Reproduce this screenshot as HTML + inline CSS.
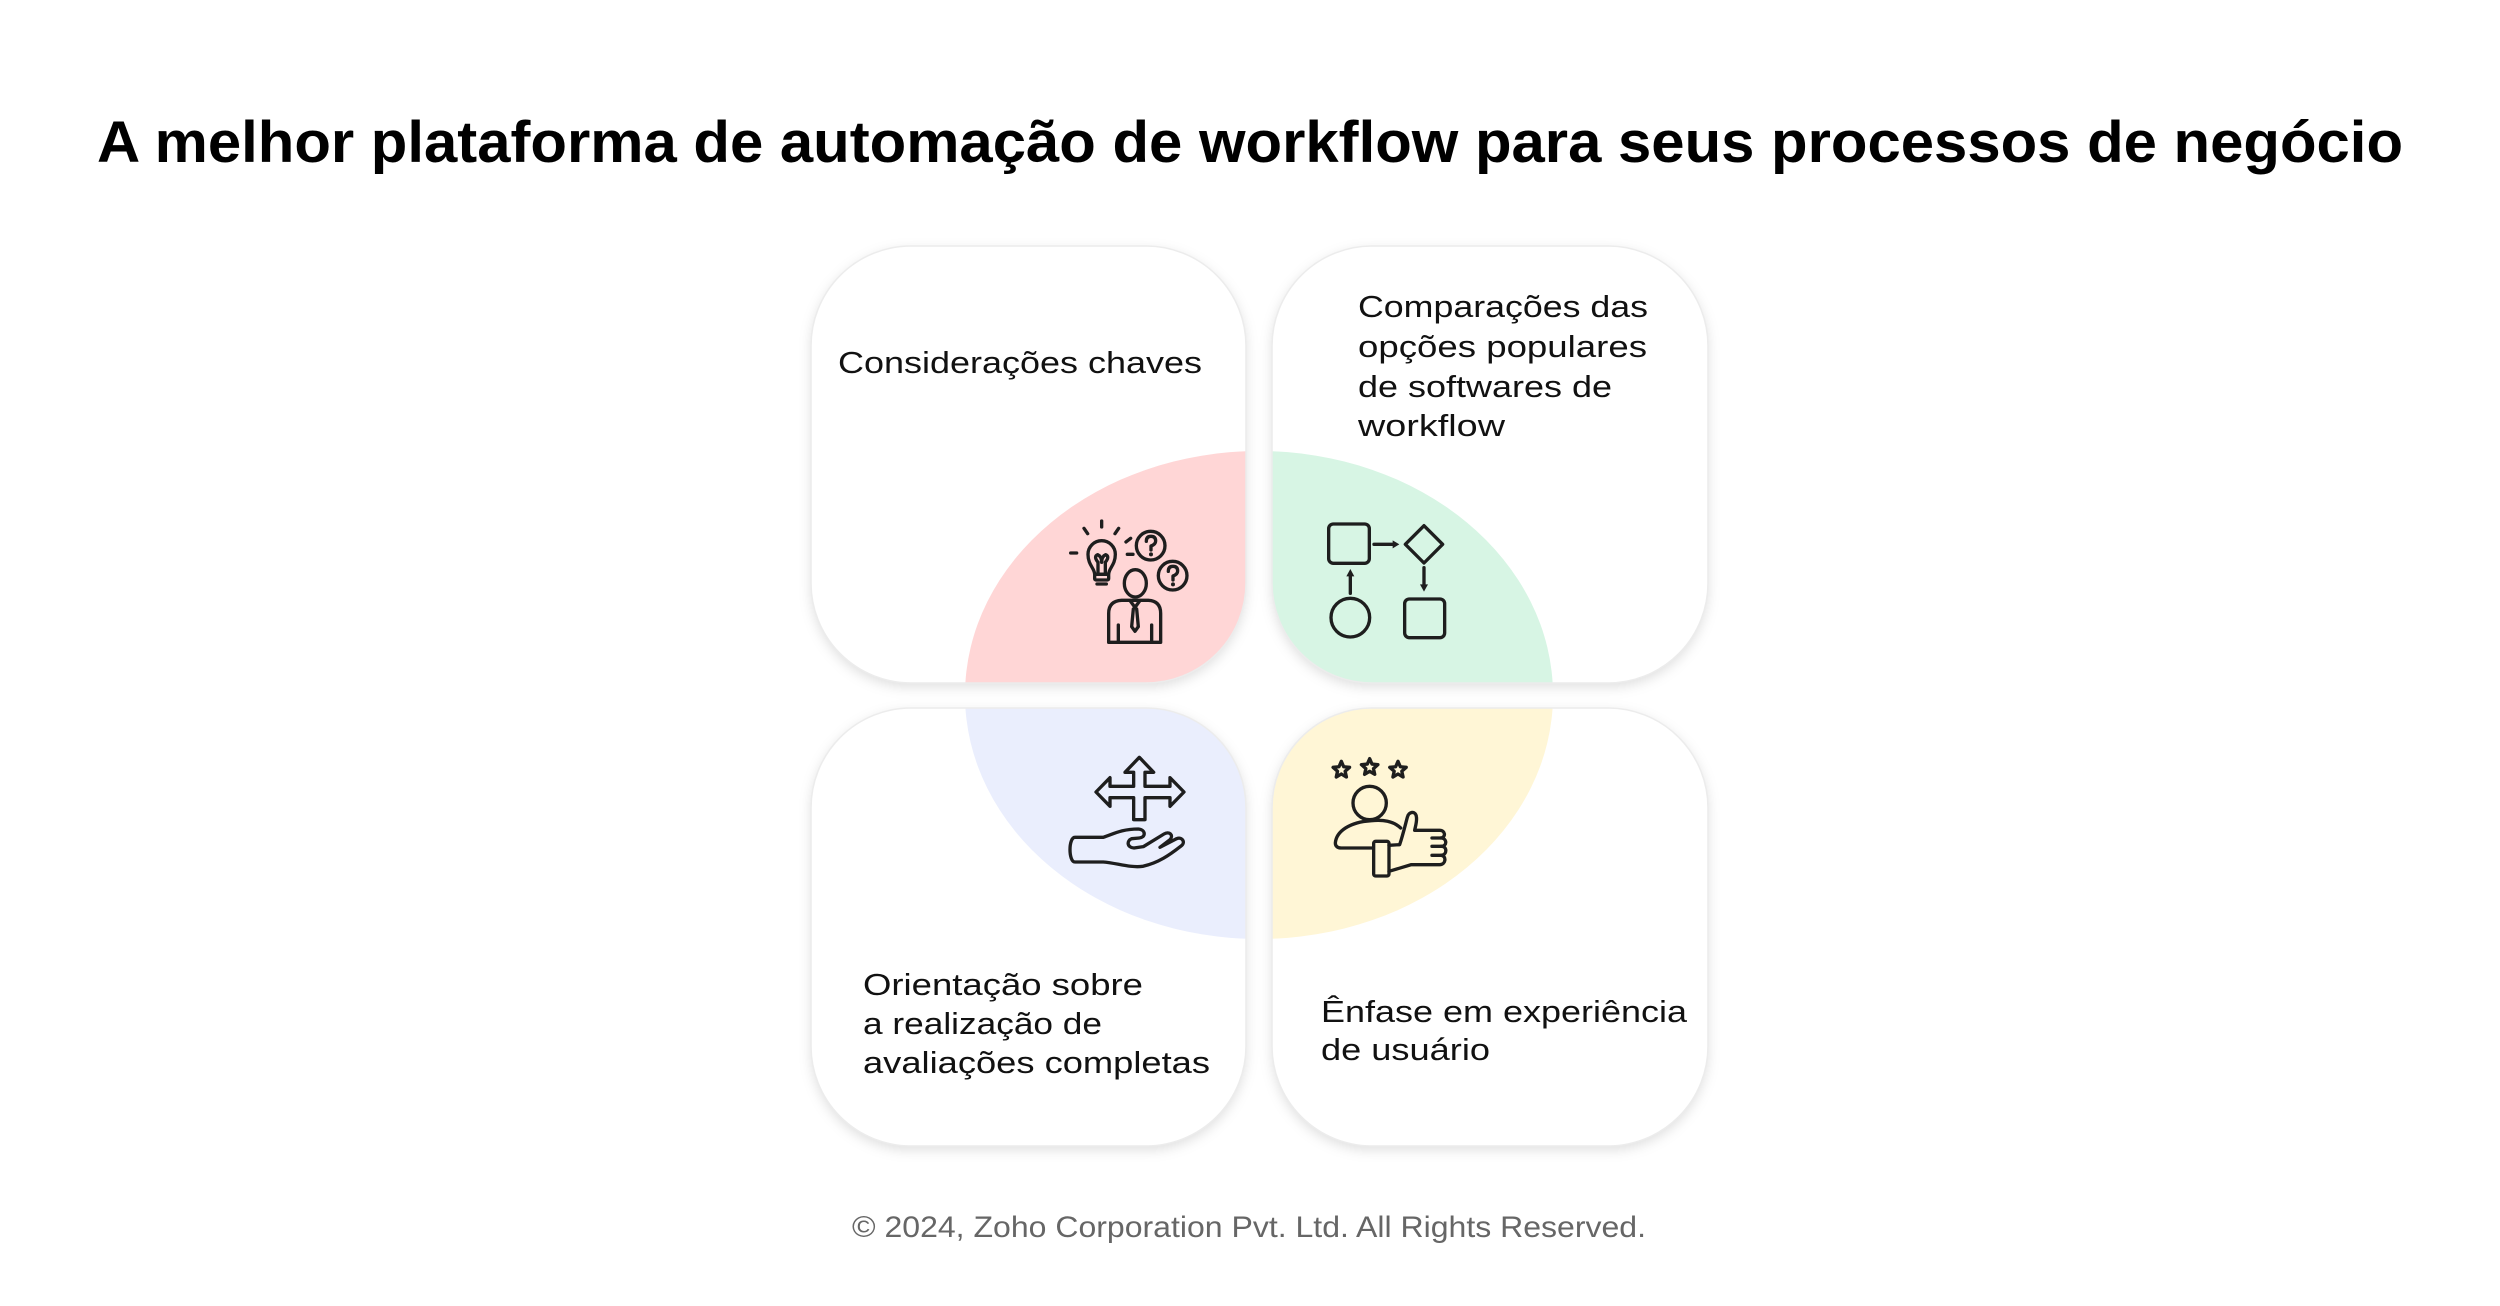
<!DOCTYPE html>
<html>
<head>
<meta charset="utf-8">
<style>
  html,body{margin:0;padding:0;background:#fff;}
  svg{display:block;}
  text{font-family:"Liberation Sans", sans-serif;}
</style>
</head>
<body>
<svg width="2500" height="1306" viewBox="0 0 2500 1306" xmlns="http://www.w3.org/2000/svg">
  <defs>
    <filter id="sh" x="-20%" y="-20%" width="140%" height="140%">
      <feDropShadow dx="0" dy="4" stdDeviation="6" flood-color="#000" flood-opacity="0.13"/>
    </filter>
    <clipPath id="c1"><rect x="811" y="246" width="435" height="437" rx="100" ry="100"/></clipPath>
    <clipPath id="c2"><rect x="1272" y="246" width="436" height="437" rx="100" ry="100"/></clipPath>
    <clipPath id="c3"><rect x="811" y="708" width="435" height="438" rx="100" ry="100"/></clipPath>
    <clipPath id="c4"><rect x="1272" y="708" width="436" height="438" rx="100" ry="100"/></clipPath>
  </defs>

  <rect width="2500" height="1306" fill="#ffffff"/>

  <!-- Title -->
  <text x="97" y="162" font-size="58" font-weight="bold" fill="#000" textLength="2306" lengthAdjust="spacingAndGlyphs">A melhor plataforma de automação de workflow para seus processos de negócio</text>

  <!-- Cards -->
  <g filter="url(#sh)">
    <rect x="811" y="246" width="435" height="437" rx="100" ry="100" fill="#fff"/>
    <rect x="1272" y="246" width="436" height="437" rx="100" ry="100" fill="#fff"/>
    <rect x="811" y="708" width="435" height="438" rx="100" ry="100" fill="#fff"/>
    <rect x="1272" y="708" width="436" height="438" rx="100" ry="100" fill="#fff"/>
  </g>

  <!-- Colored ellipse quadrants -->
  <ellipse cx="1259" cy="695" rx="294" ry="244" fill="#FFD6D6" clip-path="url(#c1)"/>
  <ellipse cx="1259" cy="695" rx="294" ry="244" fill="#D7F5E4" clip-path="url(#c2)"/>
  <ellipse cx="1259" cy="695" rx="294" ry="244" fill="#EAEEFD" clip-path="url(#c3)"/>
  <ellipse cx="1259" cy="695" rx="294" ry="244" fill="#FFF6D6" clip-path="url(#c4)"/>

  <!-- Card borders -->
  <g fill="none" stroke="#ececec" stroke-width="1.5">
    <rect x="811" y="246" width="435" height="437" rx="100" ry="100"/>
    <rect x="1272" y="246" width="436" height="437" rx="100" ry="100"/>
    <rect x="811" y="708" width="435" height="438" rx="100" ry="100"/>
    <rect x="1272" y="708" width="436" height="438" rx="100" ry="100"/>
  </g>

  <!-- Card texts -->
  <g font-size="31" fill="#111">
    <text x="838" y="373" textLength="364" lengthAdjust="spacingAndGlyphs">Considerações chaves</text>

    <text x="1358" y="317" textLength="290" lengthAdjust="spacingAndGlyphs">Comparações das</text>
    <text x="1358" y="357" textLength="289" lengthAdjust="spacingAndGlyphs">opções populares</text>
    <text x="1358" y="397" textLength="254" lengthAdjust="spacingAndGlyphs">de softwares de</text>
    <text x="1358" y="436" textLength="147" lengthAdjust="spacingAndGlyphs">workflow</text>

    <text x="863" y="995" textLength="280" lengthAdjust="spacingAndGlyphs">Orientação sobre</text>
    <text x="863" y="1034" textLength="239" lengthAdjust="spacingAndGlyphs">a realização de</text>
    <text x="863" y="1073" textLength="347" lengthAdjust="spacingAndGlyphs">avaliações completas</text>

    <text x="1321" y="1022" textLength="366" lengthAdjust="spacingAndGlyphs">Ênfase em experiência</text>
    <text x="1321" y="1060" textLength="169" lengthAdjust="spacingAndGlyphs">de usuário</text>
  </g>

  <!-- Icon 1: lightbulb + person + questions -->
  <g transform="translate(1060,515) scale(0.3333)" fill="none" stroke="#1e1e1e" stroke-width="10" stroke-linecap="round" stroke-linejoin="round">
    <path d="M32,114 H50 M72,40 L83,56 M125,18 V36 M176,40 L165,56 M212,70 L198,81 M202,118 H219"/>
    <path d="M104,178 C104,160 84,150 84,118 A41,41 0 1 1 166,118 C166,150 146,160 146,178 Z"/>
    <rect x="104" y="178" width="42" height="17" rx="4"/>
    <path d="M111,207 H139"/>
    <path d="M114,174 V142 M136,174 V142 M114,142 Q100,124 113,119 Q125,124 125,142 Q125,124 137,119 Q150,124 136,142"/>
    <circle cx="272" cy="92" r="43"/>
    <path d="M259,79 Q259,64 273,64 Q287,64 287,78 Q287,88 273,93 L273,105"/>
    <circle cx="338" cy="182" r="43"/>
    <path d="M325,169 Q325,154 339,154 Q353,154 353,168 Q353,178 339,183 L339,195"/>
    <ellipse cx="226" cy="205" rx="33" ry="41"/>
    <path d="M146,382 V295 Q146,258 185,256 L265,256 Q302,258 302,295 V382 Z"/>
    <path d="M211,258 L225,277 L239,258 M220,282 L215,335 L225,349 L235,335 L230,282"/>
    <path d="M175,330 V382 M275,330 V382"/>
  </g>
  <g transform="translate(1060,515) scale(0.3333)" fill="#1e1e1e">
    <circle cx="273" cy="118" r="6"/>
    <circle cx="339" cy="208" r="6"/>
  </g>

  <!-- Icon 2: flowchart -->
  <g transform="translate(1318,515) scale(0.3333)" fill="none" stroke="#1e1e1e" stroke-width="10" stroke-linecap="round" stroke-linejoin="round">
    <rect x="32" y="27" width="122" height="118" rx="14"/>
    <path d="M168,88 H226"/>
    <path d="M318,32 L374,88 L318,144 L262,88 Z"/>
    <path d="M318,158 V210"/>
    <rect x="260" y="252" width="120" height="116" rx="14"/>
    <circle cx="97" cy="308" r="58"/>
    <path d="M97,235 V182"/>
  </g>
  <g transform="translate(1318,515) scale(0.3333)" fill="#1e1e1e">
    <polygon points="224,76 244,88 224,100"/>
    <polygon points="306,208 318,230 330,208"/>
    <polygon points="85,184 97,162 109,184"/>
  </g>

  <!-- Icon 3: hand with 4-way arrow -->
  <g transform="translate(1060,748) scale(0.3333)" fill="none" stroke="#1e1e1e" stroke-width="10" stroke-linecap="round" stroke-linejoin="round">
    <path d="M238,28 L281,73 L255,73 L255,115 L330,115 L330,89 L372,132 L330,175 L330,149 L255,149 L255,215 L221,215 L221,149 L150,149 L150,175 L108,132 L150,89 L150,115 L221,115 L221,73 L195,73 Z"/>
    <path d="M45,268 H130 C160,258 185,243 235,243 C258,245 258,268 238,270 L215,272 C200,278 200,298 222,300 L250,296 L312,258 C328,248 342,262 330,275 L300,298 L350,272 C368,265 378,285 362,295 C330,320 295,345 248,355 C210,360 170,345 130,342 H45 C25,342 25,268 45,268 Z"/>
  </g>

  <!-- Icon 4: stars + person thumbs up -->
  <g transform="translate(1318,748) scale(0.3333)" fill="none" stroke="#1e1e1e" stroke-width="10" stroke-linecap="round" stroke-linejoin="round">
    <polygon transform="translate(70,66)" points="0,-26 7.06,-9.71 24.73,-8.03 11.41,3.71 15.28,21.03 0,12 -15.28,21.03 -11.41,3.71 -24.73,-8.03 -7.06,-9.71"/>
    <polygon transform="translate(155,58)" points="0,-26 7.06,-9.71 24.73,-8.03 11.41,3.71 15.28,21.03 0,12 -15.28,21.03 -11.41,3.71 -24.73,-8.03 -7.06,-9.71"/>
    <polygon transform="translate(240,66)" points="0,-26 7.06,-9.71 24.73,-8.03 11.41,3.71 15.28,21.03 0,12 -15.28,21.03 -11.41,3.71 -24.73,-8.03 -7.06,-9.71"/>
    <circle cx="155" cy="165" r="50"/>
    <path d="M248,240 C225,218 195,215 160,218 C95,222 55,250 52,285 C52,296 60,300 70,300 H165"/>
    <rect x="167" y="280" width="46" height="104" rx="6"/>
    <path d="M213,292 L245,290 C255,260 262,230 268,208 C272,190 292,188 295,205 C298,220 292,235 290,247 L365,247 C382,247 385,268 368,270 C388,270 388,295 370,295 C388,295 388,320 370,322 C386,324 384,350 365,350 L280,350 L213,370"/>
    <path d="M342,270 H368 M342,295 H370 M342,322 H370"/>
  </g>

  <!-- Footer -->
  <text x="852" y="1237" font-size="30" fill="#666" textLength="794" lengthAdjust="spacingAndGlyphs">© 2024, Zoho Corporation Pvt. Ltd. All Rights Reserved.</text>
</svg>
</body>
</html>
